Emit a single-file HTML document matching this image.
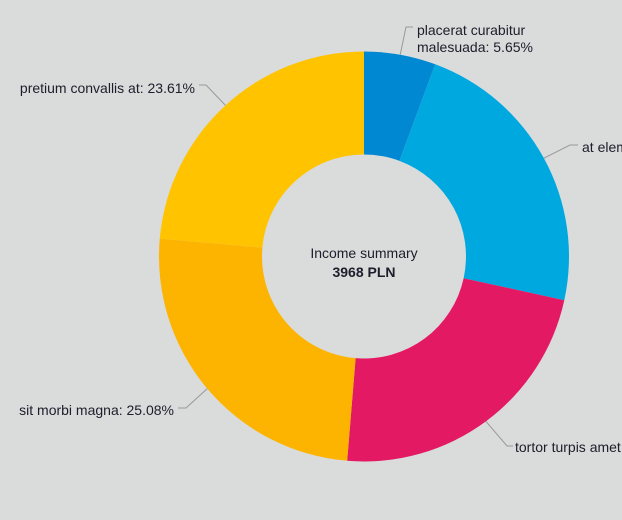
<!DOCTYPE html>
<html><head><meta charset="utf-8"><style>
body{margin:0;background:#dadbdb;width:622px;height:520px;overflow:hidden}
svg{display:block}
text{font-family:"Liberation Sans Narrow","Liberation Sans",sans-serif;font-size:14px;fill:#1d1d2b}
</style></head><body>
<svg id="c" width="622" height="520" viewBox="0 0 622 520"></svg>
<script>
const labels=["placerat curabitur malesuada","at elementum","tortor turpis amet","sit morbi magna","pretium convallis at"];
const values=[5.65,22.77,22.89,25.08,23.61];
const colors=["#0088d2","#00a8e0","#e31a63","#fdb400","#ffc300"];
const cx=364,cy=256.5,R=205,r=102;
const svg=document.getElementById('c');
const NS="http://www.w3.org/2000/svg";
function pt(a,rad){return [cx+rad*Math.sin(a),cy-rad*Math.cos(a)];}
const total=values.reduce((a,b)=>a+b,0);
let acc=0;
const labelPos=[
 {anchor:"start",x:417,lines:[labels[0],"malesuada: "+values[0].toFixed(2)+"%"],first:[labels[0].replace(" malesuada","")],y:35,elb:[406,27],end:[413,27]},
 {anchor:"start",x:582,y:152,elb:[570,145],end:[578,145]},
 {anchor:"start",x:515,y:452,elb:[507,446],end:[513,446]},
 {anchor:"end",x:174,y:415,elb:[186,408],end:[178,408]},
 {anchor:"end",x:195,y:93,elb:[206,85],end:[199,85]}
];
values.forEach((v,i)=>{
 const a0=acc/total*2*Math.PI;acc+=v;const a1=acc/total*2*Math.PI;
 const [x0,y0]=pt(a0,R),[x1,y1]=pt(a1,R),[x2,y2]=pt(a1,r),[x3,y3]=pt(a0,r);
 const lg=(a1-a0)>Math.PI?1:0;
 const p=document.createElementNS(NS,'path');
 p.setAttribute('d',`M${x0},${y0}A${R},${R} 0 ${lg} 1 ${x1},${y1}L${x2},${y2}A${r},${r} 0 ${lg} 0 ${x3},${y3}Z`);
 p.setAttribute('fill',colors[i]);
 
 
 svg.appendChild(p);
 const L=labelPos[i];const [mx,my]=pt((a0+a1)/2,R);
 const ln=document.createElementNS(NS,'polyline');
 ln.setAttribute('points',`${mx},${my} ${L.elb[0]},${L.elb[1]} ${L.end[0]},${L.end[1]}`);
 ln.setAttribute('fill','none');ln.setAttribute('stroke','#999');ln.setAttribute('stroke-width','1');
 
 
 svg.appendChild(ln);
 const t=document.createElementNS(NS,'text');
 t.setAttribute('text-anchor',L.anchor);
 
 
 if(i===0){
  const s1=document.createElementNS(NS,'tspan');s1.setAttribute('x',L.x);s1.setAttribute('y',L.y);s1.textContent="placerat curabitur";t.appendChild(s1);
  const s2=document.createElementNS(NS,'tspan');s2.setAttribute('x',L.x);s2.setAttribute('y',L.y+17);s2.textContent="malesuada: "+v.toFixed(2)+"%";t.appendChild(s2);
 } else {
  t.setAttribute('x',L.x);t.setAttribute('y',L.y);t.textContent=labels[i]+": "+v.toFixed(2)+"%";
 }
 svg.appendChild(t);
});
const t1=document.createElementNS(NS,'text');
t1.setAttribute('x',cx);t1.setAttribute('y',258);t1.setAttribute('text-anchor','middle');t1.textContent="Income summary";


svg.appendChild(t1);
const t2=document.createElementNS(NS,'text');
t2.setAttribute('x',cx);t2.setAttribute('y',277);t2.setAttribute('text-anchor','middle');t2.setAttribute('font-weight','bold');t2.textContent="3968 PLN";


svg.appendChild(t2);
</script>
</body></html>
